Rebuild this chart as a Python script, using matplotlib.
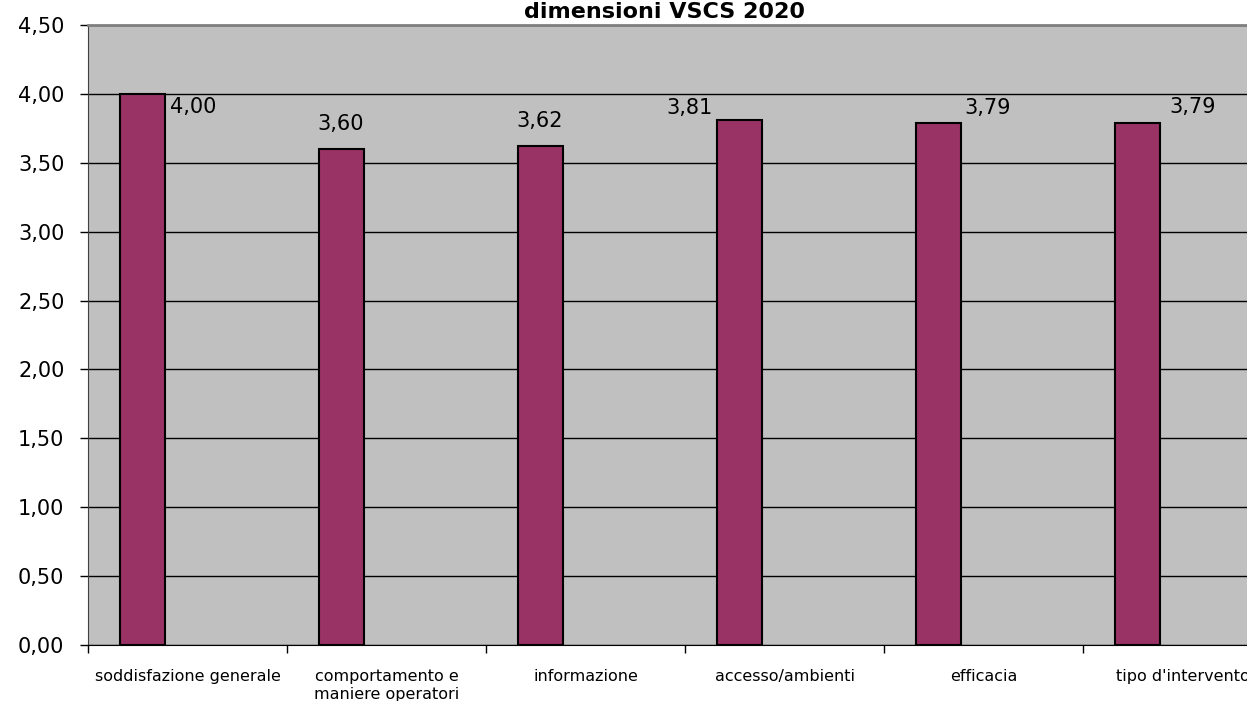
import numpy as np
import matplotlib
matplotlib.use("Agg")
import matplotlib.pyplot as plt

plt.rcParams['font.family'] = ['DejaVu Sans']

categorie = ["soddisfazione generale", "comportamento e\nmaniere operatori", "informazione",
             "accesso/ambienti", "efficacia", "tipo d'intervento"]
valori = [4.00, 3.60, 3.62, 3.81, 3.79, 3.79]
titolo = "dimensioni VSCS 2020"

# offset delle etichette (in pixel, dal centro/sommità della barra) come nel grafico Excel
offset_etichette = [(51, -13), (0, 25), (0, 25), (-50, 12), (50, 15), (56, 16)]

fig = plt.figure(figsize=(12.47, 7.01), dpi=100)
ax = fig.add_axes([88 / 1247, 56 / 701, 1194 / 1247, 620 / 701])
ax.set_facecolor('#C0C0C0')

x = np.arange(len(categorie))
pos = x - 0.5 + 54 / 199
ax.bar(pos, valori, width=45 / 199, color='#993366', edgecolor='black', linewidth=1.5, zorder=3)

for xi, v, (dx, dy) in zip(pos, valori, offset_etichette):
    ax.annotate(f"{v:.2f}".replace('.', ','), (xi, v), xytext=(dx, dy), textcoords='offset pixels',
                ha='center', va='center', fontsize=15, zorder=4)

ax.set_xlim(-0.5, 5.5)
ax.set_ylim(0, 4.5)
yt = np.arange(0, 4.51, 0.5)
ax.set_yticks(yt)
ax.set_yticklabels([f"{t:.2f}".replace('.', ',') for t in yt], fontsize=15)
ax.yaxis.grid(True, color='black', linewidth=1, zorder=1)
ax.tick_params(axis='y', length=6, width=1, pad=11, direction='out')

ax.set_xticks(x)
ax.set_xticklabels(categorie, fontsize=11.5, linespacing=1.25)
ax.set_xticks(np.arange(-0.5, 6, 1), minor=True)
ax.tick_params(axis='x', which='major', length=0, pad=17)
ax.tick_params(axis='x', which='minor', length=6, width=1, direction='out')

ax.spines['right'].set_visible(False)
ax.spines['top'].set_color('#808080')
ax.spines['top'].set_linewidth(2)
ax.spines['left'].set_color('#404040')
ax.spines['bottom'].set_color('black')

fig.text(665 / 1247, 1 - 18 / 701, titolo, ha='center', va='baseline', fontsize=16, fontweight='bold')

fig.savefig("out.png", dpi=100)
